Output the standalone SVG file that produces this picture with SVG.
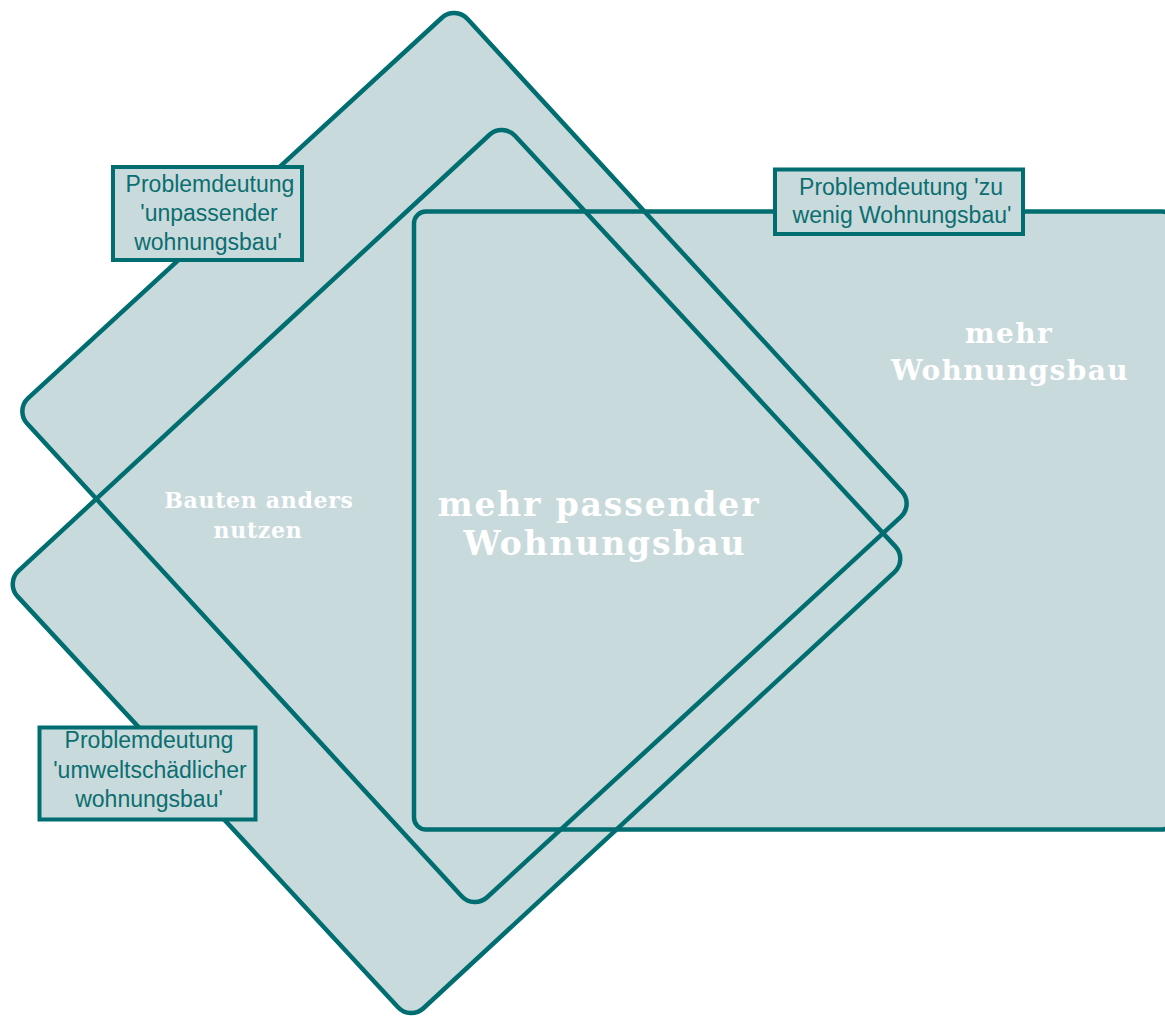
<svg xmlns="http://www.w3.org/2000/svg" width="1165" height="1016" viewBox="0 0 1165 1016">
<defs>
<style>
.fill{fill:#c9dadc;stroke:none}
.line{fill:none;stroke:#006e70;stroke-width:4.5}
.box{fill:#c9dadc;stroke:#006e70;stroke-width:4}
.lbl{font-family:"Liberation Sans",Arial,sans-serif;font-size:23px;fill:#0b6e70;text-anchor:middle}
.big{font-family:"DejaVu Serif","Liberation Serif",serif;font-weight:bold;fill:#ffffff;text-anchor:middle}
</style>
<rect id="s1" x="-339" y="-299" width="678" height="598" rx="18" transform="translate(464.5 457.5) rotate(47.4)"/>
<rect id="s2" x="-298" y="-339" width="596" height="678" rx="18" transform="translate(456.5 571.5) rotate(47.2)"/>
<rect id="s3" x="414" y="211.5" width="760" height="618" rx="12"/>
</defs>
<g id="fills">
<use href="#s1" class="fill"/>
<use href="#s2" class="fill"/>
<use href="#s3" class="fill"/>
</g>
<g id="connectors"></g>
<g id="node-unpassend"><use href="#s1" class="line"/></g>
<g id="node-umwelt"><use href="#s2" class="line"/></g>
<g id="node-zuwenig"><use href="#s3" class="line"/></g>
<g id="text-mehr-wohnungsbau"><text class="big" font-size="28" letter-spacing="1.4" x="1009" y="343">mehr</text><text class="big" font-size="28" letter-spacing="1.4" x="1010" y="380">Wohnungsbau</text></g>
<g id="text-mehr-passender"><text class="big" font-size="33" letter-spacing="1.85" x="599" y="516">mehr passender</text><text class="big" font-size="33" letter-spacing="1.85" x="605" y="555">Wohnungsbau</text></g>
<g id="text-bauten"><text class="big" font-size="22" letter-spacing="0.7" x="259" y="508">Bauten anders</text><text class="big" font-size="22" letter-spacing="0.7" x="258" y="538">nutzen</text></g>
<g id="label-unpassend"><rect class="box" x="113" y="167" width="189" height="93"/><text class="lbl" x="210" y="192">Problemdeutung</text><text class="lbl" x="209" y="221">'unpassender</text><text class="lbl" x="208" y="250">wohnungsbau'</text></g>
<g id="label-zuwenig"><rect class="box" x="775" y="169.5" width="248" height="64.5"/><text class="lbl" x="901" y="195">Problemdeutung 'zu</text><text class="lbl" x="902" y="223">wenig Wohnungsbau'</text></g>
<g id="label-umwelt"><rect class="box" x="39.5" y="727.5" width="216" height="92"/><text class="lbl" x="149" y="748">Problemdeutung</text><text class="lbl" x="150" y="778">'umweltschädlicher</text><text class="lbl" x="149" y="807">wohnungsbau'</text></g>
</svg>
